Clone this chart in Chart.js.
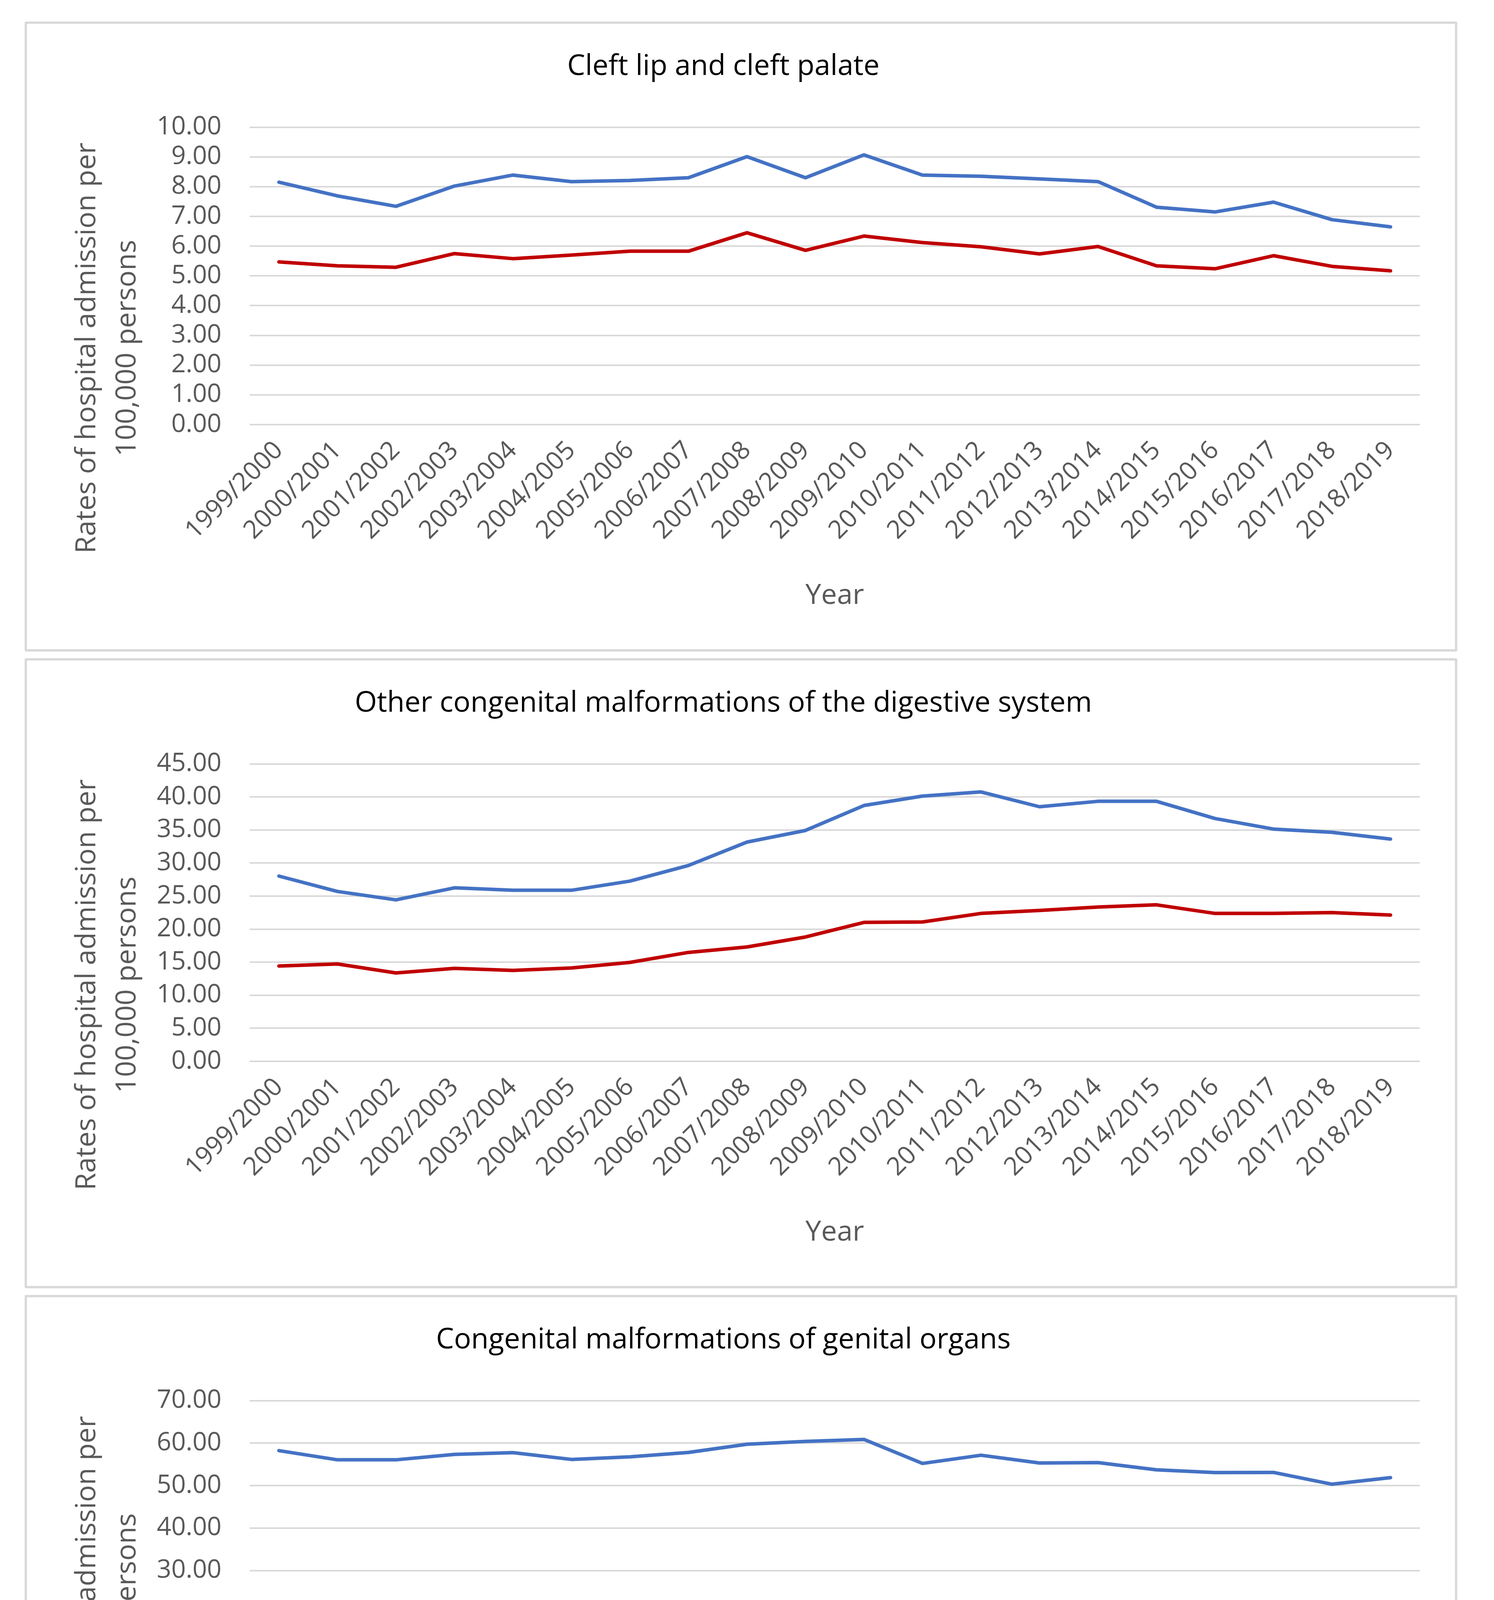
<!DOCTYPE html>
<html>
<head>
<meta charset="utf-8">
<script src="https://cdn.jsdelivr.net/npm/chart.js@4.4.1/dist/chart.umd.min.js"></script>
<style>
  body { margin: 0; background: #fff; width: 3824px; height: 4992px; position: relative; }
  .panel { position: absolute; left: 63px; width: 3667px; height: 1613px; border: 6px solid #d9d9d9; box-sizing: border-box; border-radius: 4px; background: #fff; }
  .panel canvas { display: block; }
</style>
</head>
<body>
<div class="panel" style="top:55px"><canvas id="chart1" width="3655" height="1601"></canvas></div>
<div class="panel" style="top:1685px"><canvas id="chart2" width="3655" height="1601"></canvas></div>
<div class="panel" style="top:3315px"><canvas id="chart3" width="3655" height="1601"></canvas></div>
<script>
const years = ['1999/2000', '2000/2001', '2001/2002', '2002/2003', '2003/2004', '2004/2005', '2005/2006',
    '2006/2007', '2007/2008', '2008/2009', '2009/2010', '2010/2011', '2011/2012', '2012/2013', '2013/2014',
    '2014/2015', '2015/2016', '2016/2017', '2017/2018', '2018/2019'];

// Cleft lip and cleft palate
const cleftBlue = [8.15, 7.69, 7.34, 8.02, 8.39, 8.17, 8.21, 8.30, 9.01, 8.30,
    9.07, 8.39, 8.35, 8.26, 8.17, 7.31, 7.15, 7.48, 6.89, 6.65];
const cleftRed = [5.47, 5.34, 5.29, 5.75, 5.58, 5.70, 5.83, 5.83, 6.45, 5.86,
    6.34, 6.12, 5.98, 5.74, 5.99, 5.34, 5.24, 5.68, 5.32, 5.17];

// Other congenital malformations of the digestive system
const digestiveBlue = [28.03, 25.70, 24.43, 26.25, 25.88, 25.88, 27.27, 29.63, 33.17, 34.93,
    38.71, 40.13, 40.76, 38.52, 39.34, 39.34, 36.74, 35.14, 34.65, 33.63];
const digestiveRed = [14.42, 14.73, 13.37, 14.06, 13.76, 14.12, 14.97, 16.48, 17.30, 18.81,
    21.02, 21.08, 22.38, 22.83, 23.34, 23.68, 22.38, 22.38, 22.50, 22.13];

// Congenital malformations of genital organs
const genitalBlue = [58.23, 56.07, 56.07, 57.34, 57.76, 56.16, 56.77, 57.81, 59.74, 60.40,
    60.87, 55.22, 57.15, 55.32, 55.41, 53.72, 53.06, 53.10, 50.33, 51.88];
const genitalRed = [5.74, 6.11, 5.83, 5.50, 5.50, 5.50, 5.74, 5.64, 5.97, 6.91,
    7.29, 6.68, 7.20, 6.59, 6.68, 6.96, 6.59, 6.68, 6.44, 5.74];

const titles = ['Cleft lip and cleft palate', 'Other congenital malformations of the digestive system',
    'Congenital malformations of genital organs'];
const yTitle = ['Rates of hospital admission per', '100,000 persons'];
const xTitle = 'Year';

Chart.defaults.font.family = "'Open Sans', sans-serif";

// value axis title: Excel centres it a bit lower than the plot area, so draw it ourselves
const yTitlePlugin = {
    id: 'yTitle',
    afterDraw(chart) {
        const { ctx, chartArea } = chart;
        ctx.save();
        ctx.fillStyle = '#595959';
        ctx.font = "72px 'Open Sans', sans-serif";
        ctx.textAlign = 'center';
        ctx.textBaseline = 'middle';
        ctx.translate(154, chartArea.bottom - 196);
        ctx.rotate(-Math.PI / 2);
        yTitle.forEach((line, i) => ctx.fillText(line, 0, i * 103));
        ctx.restore();
    }
};

function makeChart(id, title, blue, red, yMax, yStep) {
    const ctx = document.getElementById(id).getContext('2d');
    return new Chart(ctx, {
        type: 'line',
        data: {
            labels: years,
            datasets: [
                { data: blue, borderColor: '#4472C4', borderWidth: 9 },
                { data: red, borderColor: '#C00000', borderWidth: 9 }
            ]
        },
        options: {
            responsive: false,
            animation: false,
            elements: {
                point: { radius: 0 },
                line: { tension: 0, borderCapStyle: 'round', borderJoinStyle: 'round' }
            },
            layout: { padding: { left: 0, right: 90, top: 0, bottom: 0 } },
            plugins: {
                legend: { display: false },
                tooltip: { enabled: false },
                title: {
                    display: true,
                    text: title,
                    color: '#000000',
                    font: { size: 73, weight: 'normal' },
                    padding: { top: 66, bottom: 111 }
                }
            },
            scales: {
                x: {
                    offset: true,
                    grid: { display: false },
                    border: { display: false },
                    ticks: {
                        color: '#595959',
                        font: { size: 65 },
                        minRotation: 45,
                        maxRotation: 45,
                        autoSkip: false,
                        padding: 20
                    },
                    title: {
                        display: true,
                        text: xTitle,
                        color: '#595959',
                        font: { size: 72 },
                        padding: { top: 0, bottom: 93 }
                    },
                    afterFit: function(scale) { scale.height = 575; }
                },
                y: {
                    min: 0,
                    max: yMax,
                    ticks: {
                        stepSize: yStep,
                        autoSkip: false,
                        color: '#595959',
                        font: { size: 65 },
                        padding: 72,
                        callback: function(v) { return v.toFixed(2); }
                    },
                    grid: { color: '#d9d9d9', lineWidth: 4, drawTicks: false },
                    border: { display: false },
                    afterFit: function(scale) { scale.width = 570; }
                }
            }
        },
        plugins: [yTitlePlugin]
    });
}

makeChart('chart1', titles[0], cleftBlue, cleftRed, 10, 1);
makeChart('chart2', titles[1], digestiveBlue, digestiveRed, 45, 5);
makeChart('chart3', titles[2], genitalBlue, genitalRed, 70, 10);
</script>
</body>
</html>
